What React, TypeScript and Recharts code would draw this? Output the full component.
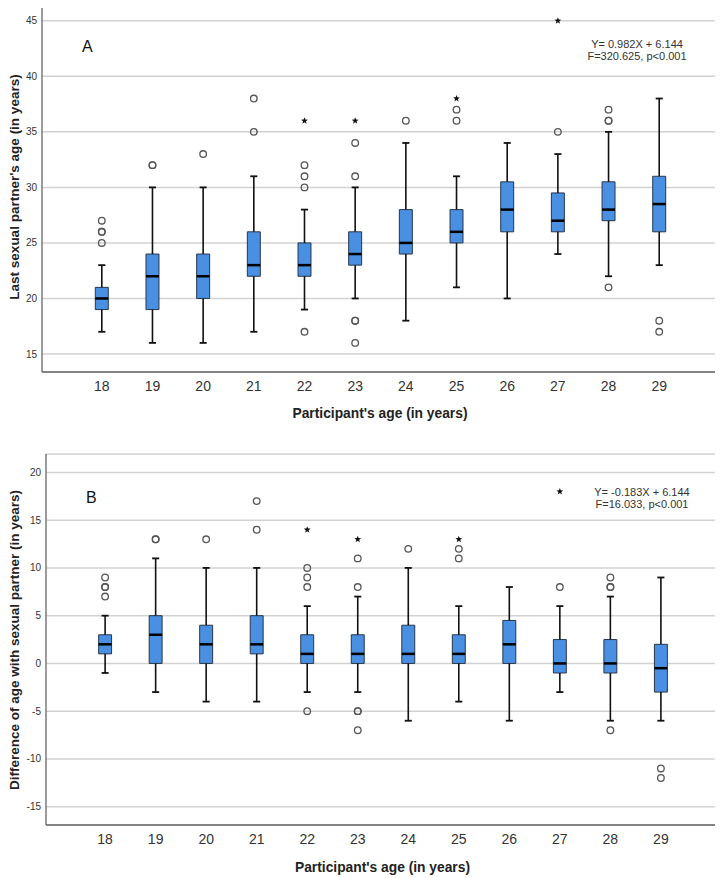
import {
  ComposedChart,
  XAxis,
  YAxis,
  CartesianGrid,
  ReferenceArea,
  ReferenceLine,
  Scatter,
  Customized,
  Label,
} from 'recharts';

const ages = [18, 19, 20, 21, 22, 23, 24, 25, 26, 27, 28, 29];

// panel A: last sexual partner's age
const lowA = [17, 16, 16, 17, 19, 20, 18, 21, 20, 24, 22, 23];
const q1A = [19, 19, 20, 22, 22, 23, 24, 25, 26, 26, 27, 26];
const medA = [20, 22, 22, 23, 23, 24, 25, 26, 28, 27, 28, 28.5];
const q3A = [21, 24, 24, 26, 25, 26, 28, 28, 30.5, 29.5, 30.5, 31];
const highA = [23, 30, 30, 31, 28, 30, 34, 31, 34, 33, 35, 38];
const outliersA: [number, number][] = [
  [18, 25], [18, 26], [18, 26], [18, 27],
  [19, 32], [19, 32],
  [20, 33],
  [21, 35], [21, 38],
  [22, 17], [22, 30], [22, 31], [22, 32],
  [23, 16], [23, 18], [23, 18], [23, 31], [23, 34],
  [24, 36],
  [25, 36], [25, 37],
  [27, 35],
  [28, 21], [28, 36], [28, 36], [28, 37],
  [29, 17], [29, 18],
];
const extremesA: [number, number][] = [[22, 36], [23, 36], [25, 38], [27, 45]];
const ticksA = [15, 20, 25, 30, 35, 40, 45];

// panel B: age difference with partner
const lowB = [-1, -3, -4, -4, -3, -3, -6, -4, -6, -3, -6, -6];
const q1B = [1, 0, 0, 1, 0, 0, 0, 0, 0, -1, -1, -3];
const medB = [2, 3, 2, 2, 1, 1, 1, 1, 2, 0, 0, -0.5];
const q3B = [3, 5, 4, 5, 3, 3, 4, 3, 4.5, 2.5, 2.5, 2];
const highB = [5, 11, 10, 10, 6, 7, 10, 6, 8, 6, 7, 9];
const outliersB: [number, number][] = [
  [18, 7], [18, 8], [18, 8], [18, 9],
  [19, 13], [19, 13],
  [20, 13],
  [21, 14], [21, 17],
  [22, -5], [22, 8], [22, 9], [22, 10],
  [23, -7], [23, -5], [23, -5], [23, 8], [23, 11],
  [24, 12],
  [25, 11], [25, 12],
  [27, 8],
  [28, -7], [28, 8], [28, 8], [28, 9],
  [29, -12], [29, -11],
];
const extremesB: [number, number][] = [[22, 14], [23, 13], [25, 13], [27, 18]];
const ticksB = [-15, -10, -5, 0, 5, 10, 15, 20];

const BOX_HALF = 0.128;
const CAP_HALF = 0.07;
const FILL = '#4a90e2';
const AXIS = { stroke: '#666', strokeWidth: 1.3 };

const toPoints = (list: [number, number][]) => list.map(([x, y]) => ({ x, y }));

const circleShape = (p: any) => (
  <circle cx={p.cx} cy={p.cy} r={3.3} fill="none" stroke="#555" strokeWidth={1.3} />
);

const starShape = (p: any) => {
  const pts: string[] = [];
  for (let i = 0; i < 10; i++) {
    const r = i % 2 === 0 ? 3.6 : 1.5;
    const a = -Math.PI / 2 + (i * Math.PI) / 5;
    pts.push(`${p.cx + r * Math.cos(a)},${p.cy + r * Math.sin(a)}`);
  }
  return <polygon points={pts.join(' ')} fill="#111" />;
};

function renderBoxes(low: number[], q1: number[], med: number[], q3: number[], high: number[]) {
  const out: any[] = [];
  ages.forEach((a, i) => {
    out.push(
      <ReferenceLine key={`wl${a}`} segment={[{ x: a, y: low[i] }, { x: a, y: q1[i] }]} stroke="#111" strokeWidth={1.6} />,
      <ReferenceLine key={`wh${a}`} segment={[{ x: a, y: q3[i] }, { x: a, y: high[i] }]} stroke="#111" strokeWidth={1.6} />,
      <ReferenceLine key={`cl${a}`} segment={[{ x: a - CAP_HALF, y: low[i] }, { x: a + CAP_HALF, y: low[i] }]} stroke="#111" strokeWidth={1.8} />,
      <ReferenceLine key={`ch${a}`} segment={[{ x: a - CAP_HALF, y: high[i] }, { x: a + CAP_HALF, y: high[i] }]} stroke="#111" strokeWidth={1.8} />,
      <ReferenceArea key={`b${a}`} x1={a - BOX_HALF} x2={a + BOX_HALF} y1={q1[i]} y2={q3[i]} fill={FILL} fillOpacity={1} stroke="#26364a" strokeWidth={1} />,
      <ReferenceLine key={`m${a}`} segment={[{ x: a - BOX_HALF, y: med[i] }, { x: a + BOX_HALF, y: med[i] }]} stroke="#000" strokeWidth={2.5} />,
    );
  });
  return out;
}

type PanelProps = {
  letter: string;
  yLabel: string;
  eq1: string;
  eq2: string;
  height: number;
  margin: { top: number; right: number; bottom: number; left: number };
  yWidth: number;
  xHeight: number;
  xDomain: [number, number];
  yDomain: [number, number];
  yTicks: number[];
  low: number[];
  q1: number[];
  med: number[];
  q3: number[];
  high: number[];
  outliers: [number, number][];
  extremes: [number, number][];
  letterPos: [number, number];
  eqPos: [number, number];
  yTitlePos: [number, number];
  titleOffset: number;
};

function Panel(p: PanelProps) {
  const [tx, ty] = p.yTitlePos;
  return (
    <ComposedChart width={723} height={p.height} margin={p.margin}>
      <CartesianGrid vertical={false} stroke="#d2d2d2" strokeWidth={1.5} />
      <XAxis
        type="number"
        dataKey="x"
        domain={p.xDomain}
        ticks={ages}
        interval={0}
        allowDataOverflow
        tickLine={false}
        tickSize={0}
        tickMargin={9}
        height={p.xHeight}
        axisLine={AXIS}
        tick={{ fontSize: 14, fill: '#333' }}
      >
        <Label
          value="Participant's age (in years)"
          position="insideBottom"
          offset={p.titleOffset}
          style={{ fontSize: 13.8, fontWeight: 'bold', fill: '#222' }}
        />
      </XAxis>
      <YAxis
        type="number"
        dataKey="y"
        domain={p.yDomain}
        ticks={p.yTicks}
        interval={0}
        allowDataOverflow
        tickLine={false}
        tickSize={0}
        tickMargin={5}
        width={p.yWidth}
        axisLine={AXIS}
        tick={{ fontSize: 10, fill: '#333' }}
      />
      {renderBoxes(p.low, p.q1, p.med, p.q3, p.high)}
      <Scatter data={toPoints(p.outliers)} dataKey="y" shape={circleShape} isAnimationActive={false} />
      <Scatter data={toPoints(p.extremes)} dataKey="y" shape={starShape} isAnimationActive={false} />
      <Customized
        component={() => (
          <g fill="#333">
            <text
              x={tx}
              y={ty}
              transform={`rotate(-90 ${tx} ${ty})`}
              textAnchor="middle"
              fontSize={13.5}
              fontWeight="bold"
              fill="#222"
            >
              {p.yLabel}
            </text>
            <text x={p.letterPos[0]} y={p.letterPos[1]} fontSize={16} fill="#111">
              {p.letter}
            </text>
            <text x={p.eqPos[0]} y={p.eqPos[1]} fontSize={11} textAnchor="middle">
              {p.eq1}
            </text>
            <text x={p.eqPos[0]} y={p.eqPos[1] + 12} fontSize={11} textAnchor="middle">
              {p.eq2}
            </text>
          </g>
        )}
      />
    </ComposedChart>
  );
}

export default function App() {
  return (
    <div
      style={{
        position: 'relative',
        width: 723,
        height: 878,
        marginLeft: -8,
        marginTop: -8,
        background: '#fff',
        fontFamily: '"Liberation Sans", Arial, sans-serif',
      }}
    >
      <div style={{ position: 'absolute', left: 0, top: 0 }}>
        <Panel
          letter="A"
          yLabel="Last sexual partner's age (in years)"
          eq1="Y= 0.982X + 6.144"
          eq2="F=320.625, p<0.001"
          height={430}
          margin={{ top: 3, right: 5, bottom: 0, left: 0 }}
          yWidth={42}
          xHeight={58}
          xDomain={[16.82, 30.16]}
          yDomain={[13.38, 46.6]}
          yTicks={ticksA}
          low={lowA}
          q1={q1A}
          med={medA}
          q3={q3A}
          high={highA}
          outliers={outliersA}
          extremes={extremesA}
          letterPos={[82, 52]}
          eqPos={[637, 48]}
          yTitlePos={[19, 187]}
          titleOffset={12}
        />
      </div>
      <div style={{ position: 'absolute', left: 0, top: 440 }}>
        <Panel
          letter="B"
          yLabel="Difference of age with sexual partner (in years)"
          eq1="Y= -0.183X + 6.144"
          eq2="F=16.033, p<0.001"
          height={438}
          margin={{ top: 14, right: 4, bottom: 0, left: 0 }}
          yWidth={46}
          xHeight={53}
          xDomain={[16.83, 30.15]}
          yDomain={[-16.92, 21.93]}
          yTicks={ticksB}
          low={lowB}
          q1={q1B}
          med={medB}
          q3={q3B}
          high={highB}
          outliers={outliersB}
          extremes={extremesB}
          letterPos={[86, 63]}
          eqPos={[642, 56]}
          yTitlePos={[19, 200]}
          titleOffset={6}
        />
      </div>
    </div>
  );
}
